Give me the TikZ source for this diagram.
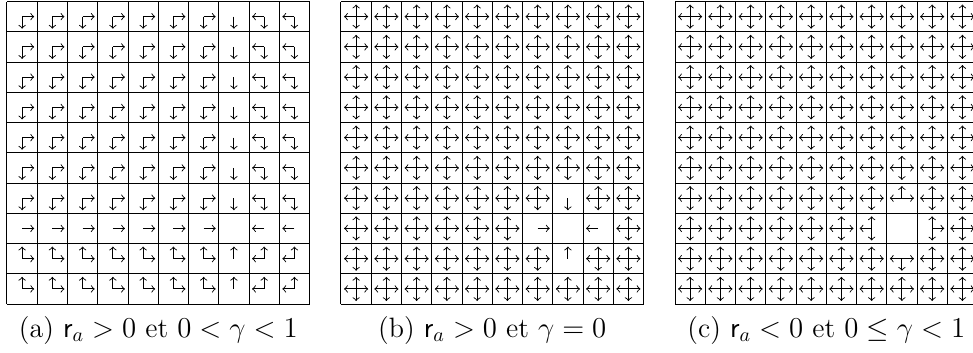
\documentclass[tikz,border=0pt]{standalone}
\usepackage{amsmath}
\usepackage{amssymb}
\usepackage{tikz}

\newcommand{\arrlen}{0.4}

\begin{document}
\begin{tikzpicture}[x=15.125pt,y=15.125pt,
  gridline/.style={line width=0.5pt,step=1},
  move/.style={->,>=to,line width=0.45pt},
  both/.style={<->,>=to,line width=0.45pt},
  caption/.style={font=\fontsize{14}{17}\selectfont}]
  \useasboundingbox (-0.231,-1.587) rectangle (31.93,10.05);

  % (a) goal in column 7, row 7
  \draw[gridline] (0,0) grid (10,10);
  \foreach \i in {0,...,9}{
    \foreach \j in {0,...,9}{
      \coordinate (c) at (\i+0.5,9.5-\j);
      \ifnum\i<7 \draw[move] (c) -- ++(\arrlen,0); \fi
      \ifnum\i>7 \draw[move] (c) -- ++(-\arrlen,0); \fi
      \ifnum\j<7 \draw[move] (c) -- ++(0,-\arrlen); \fi
      \ifnum\j>7 \draw[move] (c) -- ++(0,\arrlen); \fi
    }
  }
  \node[caption] (capa) at (5,-0.86) {(a) $\mathsf{r}_a > 0$ et $0 < \gamma < 1$};

  % (b)
  \begin{scope}[shift={(11.04,0)}]
    \draw[gridline] (0,0) grid (10,10);
    \foreach \i in {0,...,9}{
      \foreach \j in {0,...,9}{
        \pgfmathtruncatemacro\dist{abs(\i-7)+abs(\j-7)}
        \ifnum\dist>1
          \coordinate (c) at (\i+0.5,9.5-\j);
          \draw[both] (c) ++(-\arrlen,0) -- ++(2*\arrlen,0);
          \draw[both] (c) ++(0,-\arrlen) -- ++(0,2*\arrlen);
        \fi
      }
    }
    \coordinate (w) at (6.5,2.5);
    \coordinate (e) at (8.5,2.5);
    \coordinate (n) at (7.5,3.5);
    \coordinate (s) at (7.5,1.5);
    \draw[move] (w) -- ++(\arrlen,0);
    \draw[move] (e) -- ++(-\arrlen,0);
    \draw[move] (n) -- ++(0,-\arrlen);
    \draw[move] (s) -- ++(0,\arrlen);
    \node[caption] (capb) at (5,-0.86) {(b) $\mathsf{r}_a > 0$ et $\gamma = 0$};
  \end{scope}

  % (c)
  \begin{scope}[shift={(22.08,0)}]
    \draw[gridline] (0,0) grid (10,10);
    \foreach \i in {0,...,9}{
      \foreach \j in {0,...,9}{
        \pgfmathtruncatemacro\dist{abs(\i-7)+abs(\j-7)}
        \ifnum\dist>1
          \coordinate (c) at (\i+0.5,9.5-\j);
          \draw[both] (c) ++(-\arrlen,0) -- ++(2*\arrlen,0);
          \draw[both] (c) ++(0,-\arrlen) -- ++(0,2*\arrlen);
        \fi
      }
    }
    \coordinate (w) at (6.5,2.5);
    \coordinate (e) at (8.5,2.5);
    \coordinate (n) at (7.5,3.5);
    \coordinate (s) at (7.5,1.5);
    \draw[move] (w) -- ++(-\arrlen,0);
    \draw[both] (w) ++(0,-\arrlen) -- ++(0,2*\arrlen);
    \draw[move] (e) -- ++(\arrlen,0);
    \draw[both] (e) ++(0,-\arrlen) -- ++(0,2*\arrlen);
    \draw[move] (n) -- ++(0,\arrlen);
    \draw[both] (n) ++(-\arrlen,0) -- ++(2*\arrlen,0);
    \draw[move] (s) -- ++(0,-\arrlen);
    \draw[both] (s) ++(-\arrlen,0) -- ++(2*\arrlen,0);
    \node[caption] (capc) at (5,-0.86) {(c) $\mathsf{r}_a < 0$ et $0 \leq \gamma < 1$};
  \end{scope}
\end{tikzpicture}
\end{document}
